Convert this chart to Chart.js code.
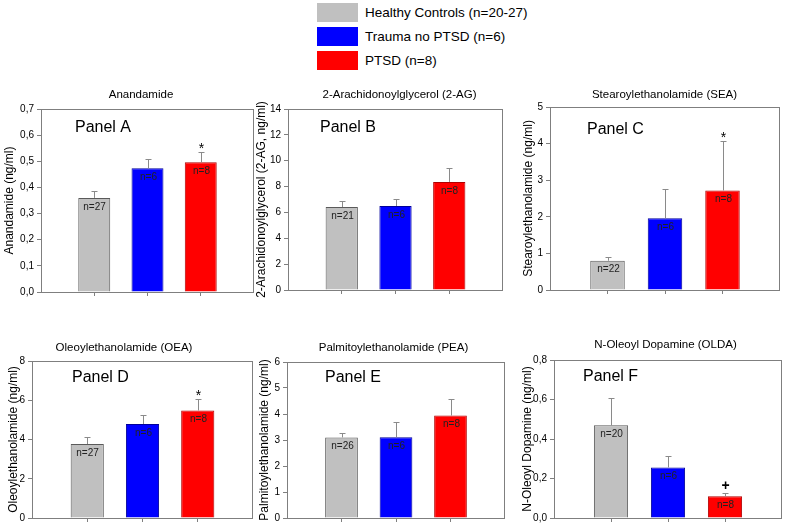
<!DOCTYPE html>
<html><head><meta charset="utf-8">
<script src="https://cdn.jsdelivr.net/npm/chart.js@4.4.1/dist/chart.umd.min.js"></script>
<style>
html,body{margin:0;padding:0;background:#fff}
body{width:786px;height:525px;position:relative;overflow:hidden;font-family:'Liberation Sans',Arial,sans-serif}
canvas{position:absolute;display:block}
.lg{position:absolute;left:317px;width:41px;height:19px}
.lt{position:absolute;left:365px;font-size:13.5px;line-height:19px;color:#000;white-space:nowrap}
</style></head><body>
<div id="legend"></div>
<script>
// ---------------- data ----------------
const groupNames = ['Healthy Controls (n=20-27)', 'Trauma no PTSD (n=6)', 'PTSD (n=8)'];
const categories = ['', 'Healthy Controls', 'Trauma no PTSD', 'PTSD', ''];

const panelNames = ['Panel A', 'Panel B', 'Panel C', 'Panel D', 'Panel E', 'Panel F'];
const panelTitles = ['Anandamide', '2-Arachidonoylglycerol (2-AG)', 'Stearoylethanolamide (SEA)',
  'Oleoylethanolamide (OEA)', 'Palmitoylethanolamide (PEA)', 'N-Oleoyl Dopamine (OLDA)'];
const axisTitles = ['Anandamide (ng/ml)', '2-Arachidonoylglycerol (2-AG, ng/ml)', 'Stearoylethanolamide (ng/ml)',
  'Oleoylethanolamide (ng/ml)', 'Palmitoylethanolamide (ng/ml)', 'N-Oleoyl Dopamine (ng/ml)'];

const anandamideMean = [0.360, 0.473, 0.496];
const anandamideErr  = [0.027, 0.036, 0.038];
const anandamideN    = ['n=27', 'n=6', 'n=8'];
const anandamideSig  = ['', '', '*'];

const ag2Mean = [6.42, 6.50, 8.36];
const ag2Err  = [0.46, 0.57, 1.09];
const ag2N    = ['n=21', 'n=6', 'n=8'];
const ag2Sig  = ['', '', ''];

const seaMean = [0.80, 1.96, 2.72];
const seaErr  = [0.09, 0.79, 1.34];
const seaN    = ['n=22', 'n=6', 'n=8'];
const seaSig  = ['', '', '*'];

const oeaMean = [3.77, 4.79, 5.48];
const oeaErr  = [0.37, 0.47, 0.60];
const oeaN    = ['n=27', 'n=6', 'n=8'];
const oeaSig  = ['', '', '*'];

const peaMean = [3.10, 3.11, 3.94];
const peaErr  = [0.16, 0.58, 0.64];
const peaN    = ['n=26', 'n=6', 'n=8'];
const peaSig  = ['', '', ''];

const oldaMean = [0.469, 0.256, 0.110];
const oldaErr  = [0.141, 0.056, 0.017];
const oldaN    = ['n=20', 'n=6', 'n=8'];
const oldaSig  = ['', '', '+'];

const yMaxes = [0.7, 14, 5, 8, 6, 0.8];
const yStepSizes = [0.1, 2, 1, 2, 1, 0.2];
const yDecimals = [1, 0, 0, 0, 0, 1];

const means = [anandamideMean, ag2Mean, seaMean, oeaMean, peaMean, oldaMean];
const errs  = [anandamideErr, ag2Err, seaErr, oeaErr, peaErr, oldaErr];
const nLabels = [anandamideN, ag2N, seaN, oeaN, peaN, oldaN];
const sigMarks = [anandamideSig, ag2Sig, seaSig, oeaSig, peaSig, oldaSig];

// ---------------- styles / layout ----------------
const FONT = "'Liberation Sans', Arial, sans-serif";
const fillColors = ['#c0c0c0', '#0000ff', '#ff0000'];
const edgeColors = ['#5a5a5a', '#00009a', '#b00000'];
const FRAME = '#7f7f7f';
// area: [left, top, right, bottom] page px
const LAYOUT = [
  {area: [41, 109, 254, 291], yW: 40, canvasTop: 85,  titleX: 141,   titleDy: 14, labelDx: 34, labelDy: 19},
  {area: [288, 109, 503, 289], yW: 35, canvasTop: 85, titleX: 399.5, titleDy: 14, labelDx: 32, labelDy: 19},
  {area: [550, 107, 780, 289], yW: 30, canvasTop: 85, titleX: 664.5, titleDy: 12, labelDx: 37, labelDy: 23},
  {area: [32, 361, 253, 517], yW: 27, canvasTop: 335, titleX: 124,   titleDy: 13, labelDx: 40, labelDy: 17},
  {area: [287, 362, 505, 517], yW: 31, canvasTop: 335, titleX: 393.5, titleDy: 14, labelDx: 38, labelDy: 16},
  {area: [554, 360, 782, 517], yW: 35, canvasTop: 335, titleX: 665.5, titleDy: 15, labelDx: 29, labelDy: 17}
];
const X_H = 6;
const BOTTOM_EXTRA = 4;

Chart.defaults.font.family = FONT;
Chart.defaults.color = '#000';

// legend (HTML)
const legend = document.getElementById('legend');
const legendRows = [3, 27, 51];
groupNames.forEach((g, i) => {
  const b = document.createElement('div');
  b.className = 'lg'; b.style.top = legendRows[i] + 'px'; b.style.background = fillColors[i];
  legend.appendChild(b);
  const t = document.createElement('div');
  t.className = 'lt'; t.style.top = (legendRows[i]) + 'px'; t.textContent = g;
  legend.appendChild(t);
});

const annotate = {
  id: 'annotate',
  afterDatasetsDraw(chart, args, opts) {
    const p = opts.panel, L = LAYOUT[p];
    const ctx = chart.ctx, y = chart.scales.y, x = chart.scales.x;
    const ca = chart.chartArea;
    const canvasLeft = L.area[0] - L.yW;
    ctx.save();
    // frame
    ctx.strokeStyle = FRAME; ctx.lineWidth = 1;
    ctx.strokeRect(Math.round(ca.left) + 0.5, Math.round(ca.top) + 0.5,
      Math.round(ca.right - ca.left) - 1, Math.round(ca.bottom - ca.top));
    // title
    ctx.fillStyle = '#000';
    ctx.font = '11.5px ' + FONT;
    ctx.textAlign = 'center'; ctx.textBaseline = 'middle';
    ctx.fillText(panelTitles[p], L.titleX - canvasLeft, ca.top - L.titleDy);
    // panel label
    ctx.font = '16px ' + FONT;
    ctx.textAlign = 'left';
    ctx.fillText(panelNames[p], ca.left + L.labelDx, ca.top + L.labelDy);
    // error bars, n labels, significance marks
    means[p].forEach((m, i) => {
      const cx = Math.round(x.getPixelForValue(i + 1)) + 0.5;
      const yTop = y.getPixelForValue(m);
      const yErr = y.getPixelForValue(m + errs[p][i]);
      ctx.strokeStyle = '#8a8a8a'; ctx.lineWidth = 1;
      ctx.beginPath();
      ctx.moveTo(cx, yTop); ctx.lineTo(cx, Math.round(yErr) + 0.5);
      ctx.moveTo(cx - 3, Math.round(yErr) + 0.5); ctx.lineTo(cx + 3, Math.round(yErr) + 0.5);
      ctx.stroke();
      ctx.fillStyle = '#222';
      ctx.font = '10px ' + FONT;
      ctx.textAlign = 'center'; ctx.textBaseline = 'middle';
      ctx.fillText(nLabels[p][i], cx, yTop + 9);
      const s = sigMarks[p][i];
      if (s) {
        ctx.fillStyle = '#000';
        ctx.textBaseline = 'alphabetic';
        if (s === '*') { ctx.font = '14px ' + FONT; ctx.fillText(s, cx, yErr + 1); }
        else { ctx.font = 'bold 14px ' + FONT; ctx.fillText(s, cx, yErr - 3); }
      }
    });
    ctx.restore();
  }
};

LAYOUT.forEach((L, p) => {
  const cv = document.createElement('canvas');
  const left = L.area[0] - L.yW;
  const w = L.area[2] + 2 - left;
  const h = L.area[3] + X_H + BOTTOM_EXTRA - L.canvasTop;
  cv.width = w; cv.height = h;
  cv.style.left = left + 'px'; cv.style.top = L.canvasTop + 'px';
  cv.style.width = w + 'px'; cv.style.height = h + 'px';
  document.body.appendChild(cv);
  const dataVals = [null].concat(means[p]).concat([null]);
  new Chart(cv, {
    type: 'bar',
    data: {
      labels: categories,
      datasets: [{
        data: dataVals,
        backgroundColor: [null].concat(fillColors).concat([null]),
        borderColor: [null].concat(edgeColors).concat([null]),
        borderWidth: 1,
        categoryPercentage: 1,
        barPercentage: 0.6
      }]
    },
    options: {
      responsive: false, animation: false, devicePixelRatio: 1,
      layout: {padding: {left: 0, right: 2, top: L.area[1] - L.canvasTop, bottom: 0}},
      plugins: {legend: {display: false}, tooltip: {enabled: false}, annotate: {panel: p}},
      scales: {
        x: {
          type: 'category', offset: false,
          grid: {offset: false, drawOnChartArea: false, drawTicks: true, tickLength: 4,
            color: c => (c.index >= 1 && c.index <= 3) ? FRAME : 'rgba(0,0,0,0)'},
          border: {display: false},
          ticks: {display: false},
          afterFit: s => { s.height = X_H; }
        },
        y: {
          min: 0, max: yMaxes[p],
          grid: {drawOnChartArea: false, drawTicks: true, tickLength: 4, color: FRAME},
          border: {display: false},
          ticks: {stepSize: yStepSizes[p], padding: 3, font: {size: 10}, color: '#000',
            callback: v => Number(v).toFixed(yDecimals[p]).replace('.', ',')},
          title: {display: true, text: axisTitles[p], font: {size: 12}, color: '#000', padding: {top: 1, bottom: 0}},
          afterFit: s => { s.width = L.yW; }
        }
      }
    },
    plugins: [annotate]
  });
});
</script>
</body></html>
